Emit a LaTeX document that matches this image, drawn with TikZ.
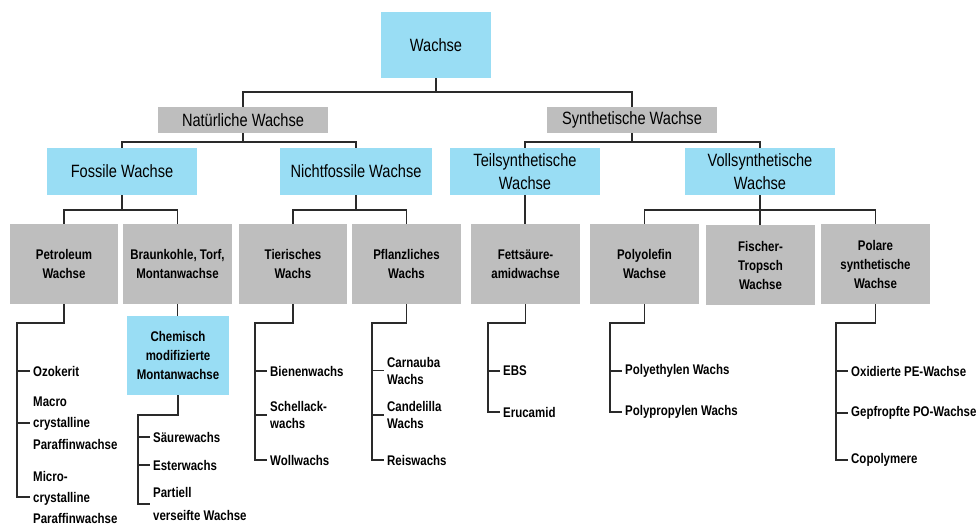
\documentclass[tikz,border=0pt]{standalone}
\usepackage{fontspec}
\setmainfont{Liberation Sans}[FakeStretch=0.82]
\usetikzlibrary{positioning}
\definecolor{waxblue}{HTML}{99DDF4}
\definecolor{waxgray}{HTML}{BEBEBE}
\definecolor{waxline}{HTML}{2A2A2A}
\tikzset{
  topfont/.style={font=\fontsize{17.8}{23}\selectfont},
  lowfont/.style={font=\bfseries\fontsize{14}{19}\selectfont},
  bluebox/.style={fill=waxblue, inner sep=0pt, align=center},
  graybox/.style={fill=waxgray, inner sep=0pt, align=center},
  item/.style={anchor=west, inner xsep=3pt, inner ysep=0pt, align=left,
    font=\bfseries\fontsize{14}{17}\selectfont},
  conn/.style={draw=waxline, line width=1.4pt},
}
\begin{document}
\begin{tikzpicture}[x=1pt,y=-1pt]
\useasboundingbox (0,0) rectangle (977,526);

% top levels
\node[bluebox,topfont,minimum width=110pt,minimum height=66pt] (wachse) at (436,45) {Wachse};
\node[graybox,topfont,minimum width=170pt,minimum height=26pt] (nat) at (243,120) {Natürliche Wachse};
\node[graybox,topfont,minimum width=170pt,minimum height=26pt] (syn) at (632,120) {Synthetische Wachse};
\node[bluebox,topfont,minimum width=150pt,minimum height=47pt] (fossil) at (122,171.5) {Fossile Wachse};
\node[bluebox,topfont,minimum width=152pt,minimum height=47pt] (nichtf) at (356,171.5) {Nichtfossile Wachse};
\node[bluebox,topfont,minimum width=150pt,minimum height=47pt] (teil) at (525,171.5) {Teilsynthetische\\Wachse};
\node[bluebox,topfont,minimum width=150pt,minimum height=47pt] (voll) at (760,171.5) {Vollsynthetische\\Wachse};

% groups
\node[graybox,lowfont,minimum width=108pt,minimum height=80pt] (pet) at (64,264) {Petroleum\\Wachse};
\node[graybox,lowfont,minimum width=109pt,minimum height=80pt] (braun) at (177.5,264) {Braunkohle, Torf,\\Montanwachse};
\node[graybox,lowfont,minimum width=108pt,minimum height=80pt] (tier) at (293,264) {Tierisches\\Wachs};
\node[graybox,lowfont,minimum width=109pt,minimum height=80pt] (pflanz) at (406.5,264) {Pflanzliches\\Wachs};
\node[graybox,lowfont,minimum width=109pt,minimum height=80pt] (fett) at (525.5,264) {Fettsäure-\\amidwachse};
\node[graybox,lowfont,minimum width=109pt,minimum height=80pt] (polyo) at (644.5,264) {Polyolefin\\Wachse};
\node[graybox,lowfont,minimum width=109pt,minimum height=80pt] (fischer) at (760.5,265) {Fischer-\\Tropsch\\Wachse};
\node[graybox,lowfont,minimum width=109pt,minimum height=80pt] (polar) at (875.5,264) {Polare\\synthetische\\Wachse};
\node[bluebox,lowfont,minimum width=102pt,minimum height=79pt] (chem) at (178,355.5) {Chemisch\\modifizierte\\Montanwachse};

% lists
\node[item,font=\bfseries\fontsize{14}{21.5}\selectfont] (ozo) at (30,371) {Ozokerit};
\node[item,font=\bfseries\fontsize{14}{21.5}\selectfont] (macro) at (30,423) {Macro\\crystalline\\Paraffinwachse};
\node[item,font=\bfseries\fontsize{14}{21}\selectfont] (micro) at (30,497) {Micro-\\crystalline\\Paraffinwachse};
\node[item] (saeure) at (150,437) {Säurewachs};
\node[item] (ester) at (150,465) {Esterwachs};
\node[item,font=\bfseries\fontsize{14}{23}\selectfont] (partiell) at (150,504) {Partiell\\verseifte Wachse};
\node[item] (biene) at (267,371) {Bienenwachs};
\node[item] (schell) at (267,415) {Schellack-\\wachs};
\node[item] (woll) at (267,460) {Wollwachs};
\node[item] (carn) at (384,370.5) {Carnauba\\Wachs};
\node[item] (cand) at (384,415) {Candelilla\\Wachs};
\node[item] (reis) at (384,460) {Reiswachs};
\node[item] (ebs) at (500,371) {EBS};
\node[item] (eruc) at (500,412) {Erucamid};
\node[item] (pe) at (622,371) {Polyethylen Wachs};
\node[item] (pp) at (622,412) {Polypropylen Wachs};
\node[item] (oxi) at (848,371) {Oxidierte PE-Wachse};
\node[item] (gep) at (848,413) {Gepfropfte PO-Wachse};
\node[item] (copo) at (848,460) {Copolymere};

% tree
\draw[conn] (wachse.south) -- ++(0,14) -| (nat.north);
\draw[conn] (wachse.south) -- ++(0,14) -| (syn.north);
\draw[conn] (nat.south) -- ++(0,9) -| (fossil.north);
\draw[conn] (nat.south) -- ++(0,9) -| (nichtf.north);
\draw[conn] (syn.south) -- ++(0,9) -| (teil.north);
\draw[conn] (syn.south) -- ++(0,9) -| (voll.north);
\draw[conn] (fossil.south) -- ++(0,15) -| (pet.north);
\draw[conn] (fossil.south) -- ++(0,15) -| (braun.north);
\draw[conn] (nichtf.south) -- ++(0,15) -| (tier.north);
\draw[conn] (nichtf.south) -- ++(0,15) -| (pflanz.north);
\draw[conn] (teil.south) -- (teil.south |- fett.north);
\draw[conn] (voll.south) -- ++(0,15) -| (polyo.north);
\draw[conn] (voll.south) -- (voll.south |- fischer.north);
\draw[conn] (voll.south) -- ++(0,15) -| (polar.north);
\draw[conn] (braun.south) -- (braun.south |- chem.north);

% spines
\coordinate (petc) at (17,323);
\coordinate (chemc) at (138,415);
\coordinate (tierc) at (255,323);
\coordinate (pflc) at (372,323);
\coordinate (fettc) at (488,323);
\coordinate (polyc) at (610,323);
\coordinate (polc) at (836,323);

\draw[conn] (pet.south) |- (petc) |- (micro.west);
\draw[conn] (petc |- ozo.west) -- (ozo.west);
\draw[conn] (petc |- macro.west) -- (macro.west);

\draw[conn] (chem.south) |- (chemc) |- (partiell.west);
\draw[conn] (chemc |- saeure.west) -- (saeure.west);
\draw[conn] (chemc |- ester.west) -- (ester.west);

\draw[conn] (tier.south) |- (tierc) |- (woll.west);
\draw[conn] (tierc |- biene.west) -- (biene.west);
\draw[conn] (tierc |- schell.west) -- (schell.west);

\draw[conn] (pflanz.south) |- (pflc) |- (reis.west);
\draw[conn] (pflc |- carn.west) -- (carn.west);
\draw[conn] (pflc |- cand.west) -- (cand.west);

\draw[conn] (fett.south) |- (fettc) |- (eruc.west);
\draw[conn] (fettc |- ebs.west) -- (ebs.west);

\draw[conn] (polyo.south) |- (polyc) |- (pp.west);
\draw[conn] (polyc |- pe.west) -- (pe.west);

\draw[conn] (polar.south) |- (polc) |- (copo.west);
\draw[conn] (polc |- oxi.west) -- (oxi.west);
\draw[conn] (polc |- gep.west) -- (gep.west);
\end{tikzpicture}
\end{document}
